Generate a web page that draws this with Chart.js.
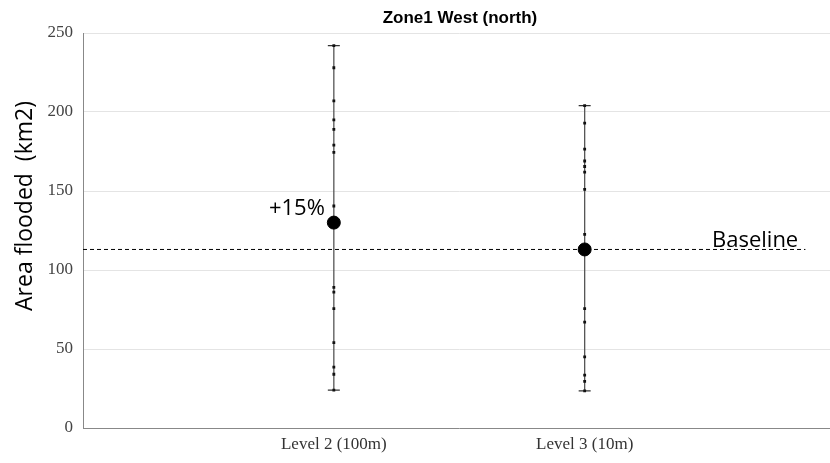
<!DOCTYPE html>
<html>
<head>
<meta charset="utf-8">
<script src="https://cdn.jsdelivr.net/npm/chart.js@4"></script>
<style>
  html, body { margin: 0; padding: 0; background: #fff; overflow: hidden; }
</style>
</head>
<body>
<canvas id="c" width="843" height="463"></canvas>
<script>
// data
const categories = ['Level 2 (100m)', 'Level 3 (10m)'];
const samplesL2 = [242, 228, 207, 195, 189, 179, 174.5, 140.5, 89, 86, 75.5, 54, 38.5, 34, 24];
const samplesL3 = [204, 193, 176.5, 169, 165.5, 162, 151, 122.5, 75.5, 67, 45, 33.5, 29.5, 23.5];
const means = [130, 113];
const baseline = 113;
const yTicks = [0, 50, 100, 150, 200, 250];

const samples = [samplesL2, samplesL3];
const pos = categories.map((c, i) => i + 1);

const dotPts = [];
samples.forEach((s, i) => s.forEach(v => dotPts.push({ x: pos[i], y: v })));
const capPts = [];
samples.forEach((s, i) => {
    capPts.push({ x: pos[i], y: Math.min(...s) });
    capPts.push({ x: pos[i], y: Math.max(...s) });
});
const whiskers = samples.map((s, i) => ({
    type: 'scatter',
    showLine: true,
    data: [{ x: pos[i], y: Math.min(...s) }, { x: pos[i], y: Math.max(...s) }],
    borderColor: '#555',
    borderWidth: 1.3,
    pointRadius: 0,
    order: 5
}));

// text drawn on top: title, y title, notes
const textPlugin = {
    id: 'texts',
    afterDraw(chart) {
        const { ctx, scales } = chart;
        ctx.save();
        ctx.fillStyle = '#000';
        ctx.textAlign = 'center';
        ctx.textBaseline = 'middle';
        ctx.font = 'bold 17px "Liberation Sans", Arial, sans-serif';
        ctx.fillText('Zone1 West (north)', 460, 18);

        ctx.font = '23px "Open Sans", sans-serif';
        ctx.save();
        ctx.translate(25, 206);
        ctx.rotate(-Math.PI / 2);
        ctx.fillText('Area flooded  (km2)', 0, 0);
        ctx.restore();

        ctx.font = '22px "Open Sans", sans-serif';
        ctx.textAlign = 'right';
        ctx.textBaseline = 'alphabetic';
        ctx.fillText('+15%', scales.x.getPixelForValue(pos[0]) - 9, scales.y.getPixelForValue(means[0]) - 8);
        ctx.textAlign = 'left';
        ctx.fillText('Baseline', 712, scales.y.getPixelForValue(baseline) - 2);
        ctx.restore();
    }
};

new Chart(document.getElementById('c'), {
    type: 'scatter',
    data: {
        datasets: [
            ...whiskers,
            {
                type: 'scatter',
                showLine: true,
                data: [{ x: 0, y: baseline }, { x: 2.88, y: baseline }],
                borderColor: '#000',
                borderWidth: 1,
                borderDash: [4, 3],
                pointRadius: 0,
                order: 6
            },
            {
                data: capPts,
                pointStyle: 'line',
                pointRadius: 6,
                borderColor: '#333',
                borderWidth: 1.3,
                order: 4
            },
            {
                data: dotPts,
                pointStyle: 'rect',
                pointRadius: 2,
                backgroundColor: '#111',
                borderColor: '#111',
                borderWidth: 0,
                order: 3
            },
            {
                data: means.map((v, i) => ({ x: pos[i], y: v })),
                pointRadius: 6.5,
                backgroundColor: '#000',
                borderColor: '#000',
                order: 1
            }
        ]
    },
    options: {
        responsive: false,
        animation: false,
        layout: { padding: { top: 33, right: 0, left: 0, bottom: 0 } },
        plugins: {
            legend: { display: false },
            tooltip: { enabled: false }
        },
        scales: {
            x: {
                type: 'linear',
                min: 0,
                max: 3,
                afterBuildTicks: s => { s.ticks = pos.map(v => ({ value: v })); },
                afterFit: s => { s.height = 35; },
                ticks: {
                    callback: v => categories[v - 1],
                    font: { family: '"Liberation Serif", serif', size: 17 },
                    color: '#333',
                    padding: 6
                },
                grid: { display: false, drawTicks: false },
                border: { color: '#888' }
            },
            y: {
                min: 0,
                max: 250,
                afterBuildTicks: s => { s.ticks = yTicks.map(v => ({ value: v })); },
                afterFit: s => { s.width = 83; },
                ticks: {
                    font: { family: '"Liberation Serif", serif', size: 17 },
                    color: '#444',
                    padding: 10
                },
                grid: { color: '#e4e4e4', drawTicks: false },
                border: { color: '#888' }
            }
        }
    },
    plugins: [textPlugin]
});
</script>
</body>
</html>
